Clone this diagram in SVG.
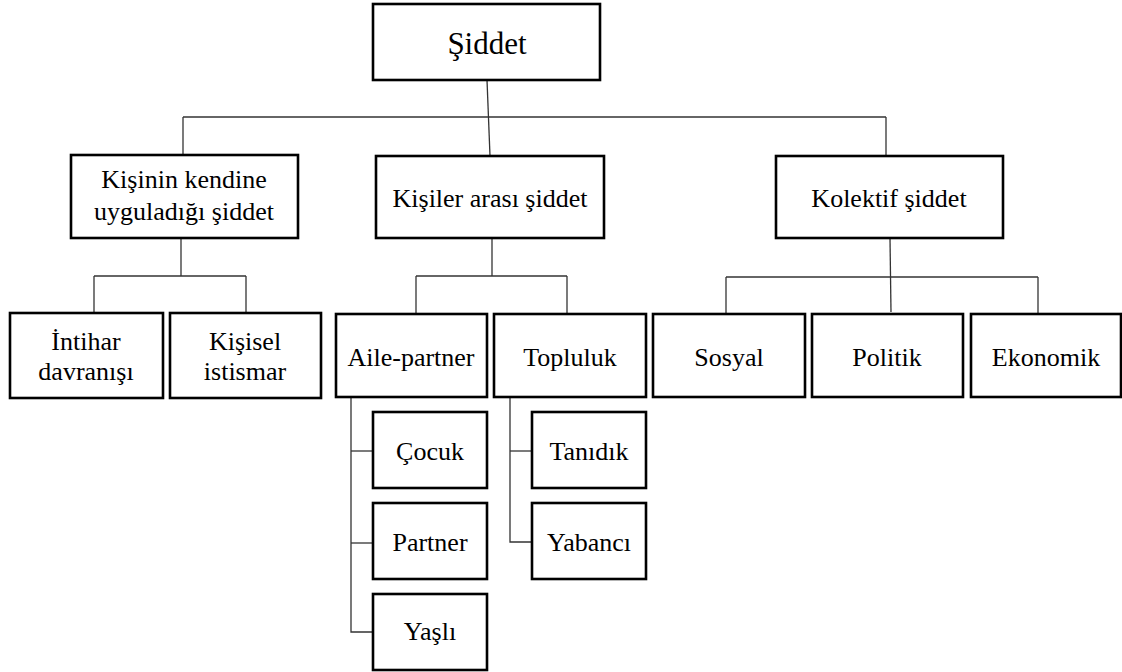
<svg xmlns="http://www.w3.org/2000/svg" width="1122" height="672" viewBox="0 0 1122 672">
<style>
.box{fill:#fff;stroke:#000;stroke-width:2.6}
text{font-family:'Liberation Serif','Tinos','Times New Roman','DejaVu Serif',serif;font-size:26px;fill:#000;text-anchor:middle}
.big{font-size:31px}
.c{fill:none;stroke:#333;stroke-width:1.3}
</style>
<rect width="1122" height="672" fill="#fff"/>
<g id="connectors">
<path class="c" d="M487 80 L490 156"/>
<path class="c" d="M183 117 H886"/>
<path class="c" d="M183 117 V155"/>
<path class="c" d="M886 117 V156"/>
<path class="c" d="M181 238 V276"/>
<path class="c" d="M94 276 H246"/>
<path class="c" d="M94 276 V313"/>
<path class="c" d="M246 276 V313"/>
<path class="c" d="M492 238 V276"/>
<path class="c" d="M416 276 H567"/>
<path class="c" d="M416 276 V314"/>
<path class="c" d="M567 276 V314"/>
<path class="c" d="M890 238 L891 312"/>
<path class="c" d="M726 277 H1038"/>
<path class="c" d="M726 277 V314"/>
<path class="c" d="M1038 277 V314"/>
<path class="c" d="M351 397 V632 H373"/>
<path class="c" d="M351 451 H373"/>
<path class="c" d="M351 543 H373"/>
<path class="c" d="M510 397 V542 H532"/>
<path class="c" d="M510 451 H532"/>
</g>
<g id="siddet"><rect class="box" x="373" y="4" width="227" height="76"/><text class="big" x="487" y="54">Şiddet</text></g>
<g id="kisinin"><rect class="box" x="71" y="155" width="227" height="83"/><text x="184" y="188">Kişinin kendine</text><text x="184" y="220">uyguladığı şiddet</text></g>
<g id="kisiler"><rect class="box" x="376" y="156" width="228" height="82"/><text x="490" y="207">Kişiler arası şiddet</text></g>
<g id="kolektif"><rect class="box" x="776" y="156" width="227" height="82"/><text x="889" y="207">Kolektif şiddet</text></g>
<g id="intihar"><rect class="box" x="10" y="313" width="153" height="85"/><text x="86" y="350">İntihar</text><text x="86" y="380">davranışı</text></g>
<g id="kisisel"><rect class="box" x="170" y="313" width="151" height="85"/><text x="245" y="350">Kişisel</text><text x="245" y="380">istismar</text></g>
<g id="aile"><rect class="box" x="336" y="314" width="151" height="83"/><text x="411" y="366">Aile-partner</text></g>
<g id="topluluk"><rect class="box" x="494" y="314" width="152" height="83"/><text x="570" y="366">Topluluk</text></g>
<g id="sosyal"><rect class="box" x="653" y="314" width="152" height="83"/><text x="729" y="366">Sosyal</text></g>
<g id="politik"><rect class="box" x="812" y="314" width="151" height="83"/><text x="887" y="366">Politik</text></g>
<g id="ekonomik"><rect class="box" x="971" y="314" width="150" height="83"/><text x="1046" y="366">Ekonomik</text></g>
<g id="cocuk"><rect class="box" x="373" y="412" width="114" height="76"/><text x="430" y="460">Çocuk</text></g>
<g id="partner"><rect class="box" x="373" y="503" width="114" height="76"/><text x="430" y="551">Partner</text></g>
<g id="yasli"><rect class="box" x="373" y="594" width="114" height="76"/><text x="430" y="640">Yaşlı</text></g>
<g id="tanidik"><rect class="box" x="532" y="412" width="114" height="76"/><text x="589" y="460">Tanıdık</text></g>
<g id="yabanci"><rect class="box" x="532" y="503" width="114" height="76"/><text x="589" y="551">Yabancı</text></g>
</svg>
